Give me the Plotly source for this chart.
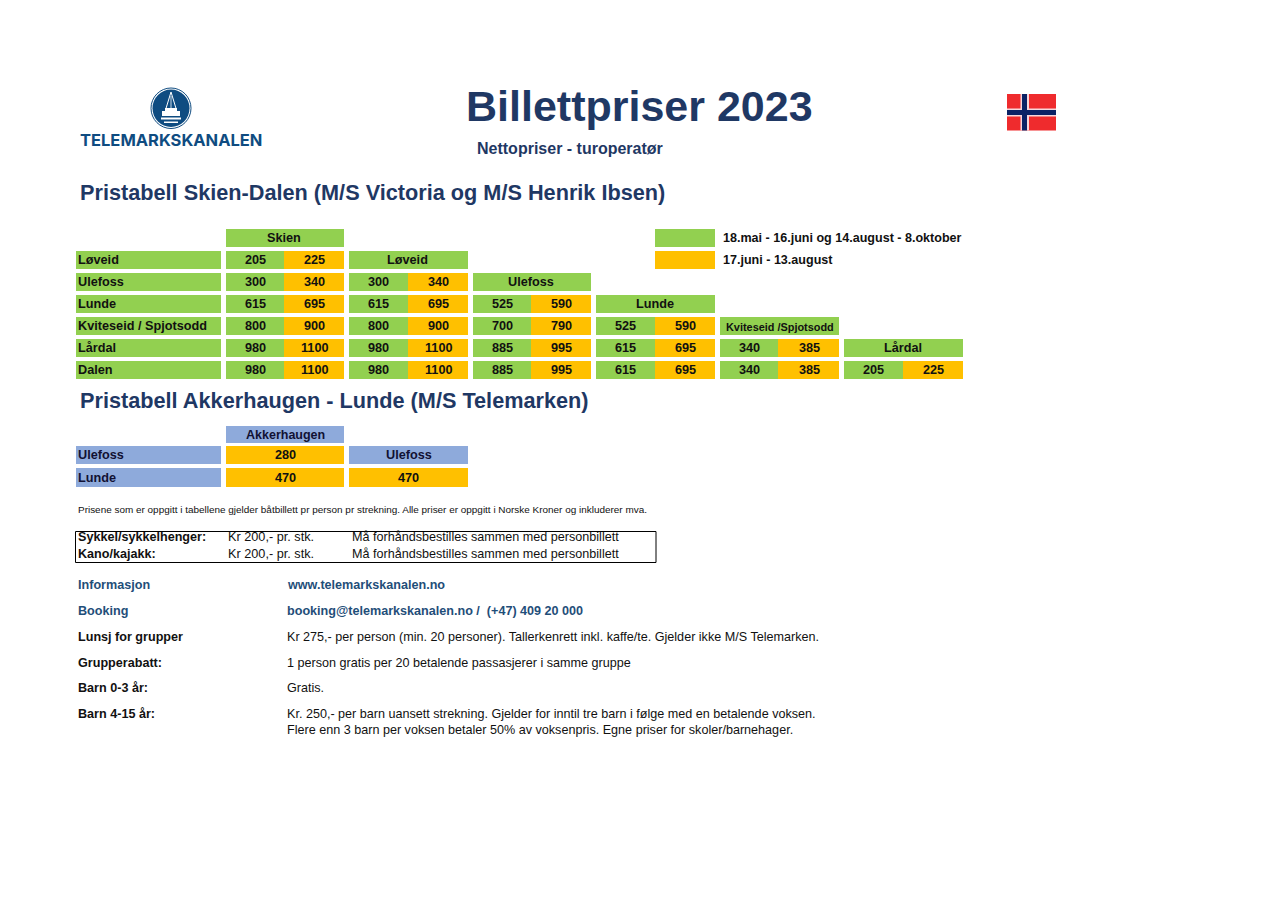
import plotly.graph_objects as go

W, H = 1283, 907
GREEN, ORANGE, BLUE = "#92D050", "#FFC000", "#8EAADB"
NAVY, LINK, LOGO = "#1F3864", "#1F4E79", "#0F4C81"
SANS = "Liberation Sans"

# ---- data ----
route_labels = ["Løveid", "Ulefoss", "Lunde", "Kviteseid / Spjotsodd", "Lårdal", "Dalen"]
column_heads = ["Skien", "Løveid", "Ulefoss", "Lunde", "Kviteseid /Spjotsodd", "Lårdal"]
low_prices = [
    [205, 300, 615, 800, 980, 980],
    [300, 615, 800, 980, 980],
    [525, 700, 885, 885],
    [525, 615, 615],
    [340, 340],
    [205],
]
high_prices = [
    [225, 340, 695, 900, 1100, 1100],
    [340, 695, 900, 1100, 1100],
    [590, 790, 995, 995],
    [590, 695, 695],
    [385, 385],
    [225],
]
akker_labels = ["Ulefoss", "Lunde"]
akker_heads = ["Akkerhaugen", "Ulefoss"]
akker_prices = [[280, 470], [470]]
season_labels = ["18.mai - 16.juni og 14.august - 8.oktober", "17.juni - 13.august"]
extras = [
    ("Sykkel/sykkelhenger:", "Kr 200,- pr. stk.", "Må forhåndsbestilles sammen med personbillett"),
    ("Kano/kajakk:", "Kr 200,- pr. stk.", "Må forhåndsbestilles sammen med personbillett"),
]
info_rows = [
    ("Informasjon", "www.telemarkskanalen.no"),
    ("Booking", "booking@telemarkskanalen.no /  (+47) 409 20 000"),
    ("Lunsj for grupper", "Kr 275,- per person (min. 20 personer). Tallerkenrett inkl. kaffe/te. Gjelder ikke M/S Telemarken."),
    ("Grupperabatt:", "1 person gratis per 20 betalende passasjerer i samme gruppe"),
    ("Barn 0-3 år:", "Gratis."),
    ("Barn 4-15 år:", "Kr. 250,- per barn uansett strekning. Gjelder for inntil tre barn i følge med en betalende voksen."),
]
info_extra = "Flere enn 3 barn per voksen betaler 50% av voksenpris. Egne priser for skoler/barnehager."

# ---- layout grid (page pixels) ----
LABEL = (76, 221)
COLS = [(226, 284, 344), (349, 408, 468), (473, 531, 591), (596, 655, 715), (720, 778, 839), (844, 903, 963)]
ROWS = [(251, 269), (273, 291), (295, 313), (317, 335), (339, 357), (361, 379)]
HEAD_ROW = (229, 247)
A_HEAD = (426, 443)
A_ROWS = [(446, 464), (468, 487)]

fig = go.Figure()
ann = []


def cell(x0, x1, y0, y1, color):
    fig.add_trace(go.Bar(
        x=[x1 - x0], base=[x0], y=[(y0 + y1) / 2], width=[y1 - y0], orientation="h",
        marker=dict(color=color, line=dict(width=0)), showlegend=False, hoverinfo="skip"))


def text(x, y, s, size=12.6, color="black", bold=False, anchor="center", family=SANS):
    ann.append(dict(x=x, y=y, text=f"<b>{s}</b>" if bold else s, showarrow=False, xanchor=anchor,
                    yanchor="middle", xref="x", yref="y", align="left",
                    xshift=-2.5 if anchor == "left" else 0,
                    font=dict(family=family, size=size, color=color)))


def mid(a):
    return (a[0] + a[1]) / 2


# main table: row labels
for lab, r in zip(route_labels, ROWS):
    cell(LABEL[0], LABEL[1], r[0], r[1], GREEN)
    text(LABEL[0] + 2.5, mid(r) - 0.3, lab, 12.7, "#111", True, "left")

# main table: column heads and prices (each column starts one row lower than the last)
for c, (head, col) in enumerate(zip(column_heads, COLS)):
    hr = HEAD_ROW if c == 0 else ROWS[c - 1]
    cell(col[0], col[2], hr[0], hr[1], GREEN)
    if c == 4:
        text((col[0] + col[2]) / 2, mid(hr) + 0.5, head, 10.9, "#111", True)
    else:
        text((col[0] + col[2]) / 2 - 0.7, mid(hr) - 0.3, head, 12.7, "#111", True)
    for k, (lo, hi) in enumerate(zip(low_prices[c], high_prices[c])):
        r = ROWS[c + k]
        cell(col[0], col[1], r[0], r[1], GREEN)
        cell(col[1], col[2], r[0], r[1], ORANGE)
        text((col[0] + col[1]) / 2 + 0.3, mid(r) - 0.3, lo, 12.7, "#111", True)
        text((col[1] + col[2]) / 2 + 0.5, mid(r) - 0.3, hi, 12.7, "#111", True)

# season key
cell(655, 715, 229, 247, GREEN)
cell(655, 715, 251, 269, ORANGE)
text(723.5, 237.7, season_labels[0], 12.55, "#111", True, "left")
text(723.5, 259.7, season_labels[1], 12.55, "#111", True, "left")

# Akkerhaugen table
for lab, r in zip(akker_labels, A_ROWS):
    cell(LABEL[0], LABEL[1], r[0], r[1], BLUE)
    text(LABEL[0] + 2.5, mid(r), lab, 12.7, "#111133", True, "left")
cell(COLS[0][0], COLS[0][2], A_HEAD[0], A_HEAD[1], BLUE)
text((COLS[0][0] + COLS[0][2]) / 2, mid(A_HEAD), akker_heads[0], 12.5, "#111133", True)
cell(COLS[1][0], COLS[1][2], A_ROWS[0][0], A_ROWS[0][1], BLUE)
text((COLS[1][0] + COLS[1][2]) / 2, mid(A_ROWS[0]), akker_heads[1], 12.7, "#111133", True)
for k, p in enumerate(akker_prices[0]):
    r = A_ROWS[k]
    cell(COLS[0][0], COLS[0][2], r[0], r[1], ORANGE)
    text((COLS[0][0] + COLS[0][2]) / 2, mid(r), p, 12.7, "#111", True)
r = A_ROWS[1]
cell(COLS[1][0], COLS[1][2], r[0], r[1], ORANGE)
text((COLS[1][0] + COLS[1][2]) / 2, mid(r), akker_prices[1][0], 12.7, "#111", True)

# headings
text(639.5, 105.5, "Billettpriser 2023", 43, NAVY, True)
text(570, 148, "Nettopriser - turoperatør", 16, NAVY, True)
text(80, 192, "Pristabell Skien-Dalen (M/S Victoria og M/S Henrik Ibsen)", 21.7, NAVY, True, "left")
text(80, 400, "Pristabell Akkerhaugen - Lunde (M/S Telemarken)", 21.7, NAVY, True, "left")
text(78, 509, "Prisene som er oppgitt i tabellene gjelder båtbillett pr person pr strekning. Alle priser er oppgitt i Norske Kroner og inkluderer mva.", 9.95, "#111", False, "left")

# extras box
for (a, b, c), y in zip(extras, (537, 554)):
    text(78, y, a, 12.6, "#111", True, "left")
    text(228.5, y, b, 12.7, "#111", False, "left")
    text(352.5, y, c, 12.6, "#111", False, "left")

# info
for i, ((a, b), y) in enumerate(zip(info_rows, (585, 611, 637, 663, 688, 714))):
    col = LINK if i < 2 else "#111"
    text(78.5, y, a, 12.6, col, True, "left")
    text(287.5, y, b, 12.6, col, i < 2, "left")
text(287.5, 730, info_extra, 12.6, "#111", False, "left")

# logo wordmark
text(171, 139.5, "TELEMARKSKANALEN", 16.5, LOGO, True, "center", "Inter")

WHITE = dict(fillcolor="white", line=dict(width=0))
shapes = [
    dict(type="rect", x0=75.5, x1=656, y0=531.5, y1=562.5, line=dict(color="black", width=1), fillcolor="rgba(0,0,0,0)"),
    # logo roundel
    dict(type="circle", x0=151, x1=191, y0=88, y1=128.5, line=dict(color=LOGO, width=1), fillcolor="white"),
    dict(type="circle", x0=152.5, x1=189.5, y0=89.5, y1=127, line=dict(width=0), fillcolor=LOGO),
    # steeple outline and church body
    dict(type="path", path="M171 92 L165.5 110 L176.5 110 Z", fillcolor="rgba(0,0,0,0)", line=dict(color="white", width=1)),
    dict(type="path", path="M171 96 L171 110", line=dict(color="white", width=0.8)),
    dict(type="path", path="M165 108 H177 V111 H180 V116 H162 V111 H165 Z", **WHITE),
    dict(type="rect", x0=161, x1=181, y0=117.5, y1=119.5, **WHITE),
    dict(type="rect", x0=164, x1=178, y0=121.5, y1=123, **WHITE),
    # flag
    dict(type="rect", x0=1007, x1=1056, y0=94, y1=130.5, fillcolor="#EF2B2D", line=dict(width=0)),
    dict(type="rect", x0=1020.5, x1=1029, y0=94, y1=130.5, fillcolor="#F7D6DA", line=dict(width=0)),
    dict(type="rect", x0=1007, x1=1056, y0=108.5, y1=116.5, fillcolor="#F7D6DA", line=dict(width=0)),
    dict(type="rect", x0=1022, x1=1027, y0=94, y1=130.5, fillcolor="#0B2265", line=dict(width=0)),
    dict(type="rect", x0=1007, x1=1056, y0=110, y1=115, fillcolor="#0B2265", line=dict(width=0)),
]

# the browser page has an 8px body margin, so the plot area covers page pixels 8..W-8
axis = dict(visible=False, showgrid=False, zeroline=False, fixedrange=True)
fig.update_layout(
    width=W - 16, height=H - 16, margin=dict(l=0, r=0, t=0, b=0),
    paper_bgcolor="white", plot_bgcolor="white", barmode="overlay", showlegend=False,
    xaxis=dict(range=[8, W - 8], **axis), yaxis=dict(range=[H - 8, 8], **axis),
    annotations=ann, shapes=shapes,
)
fig.write_html("out.html", config=dict(displayModeBar=False))
